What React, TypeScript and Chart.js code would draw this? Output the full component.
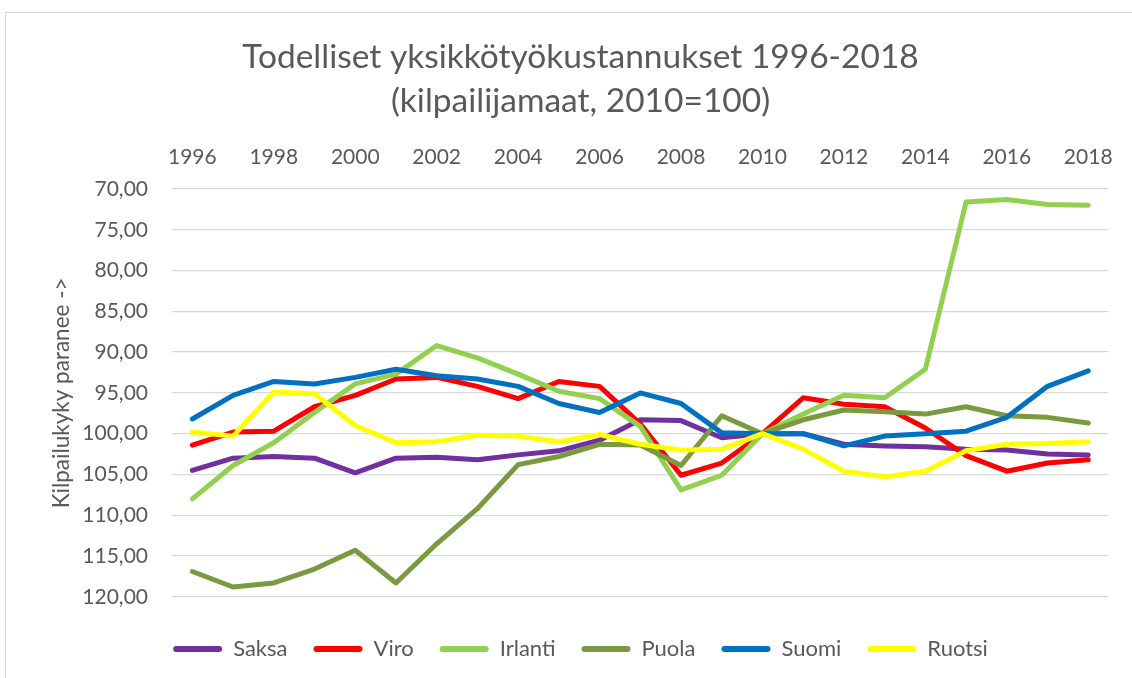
import React, { useEffect, useRef } from "react";
import { Chart, registerables } from "chart.js";

Chart.register(...registerables);

const years = [
  "1996", "1997", "1998", "1999", "2000", "2001", "2002", "2003", "2004", "2005", "2006", "2007",
  "2008", "2009", "2010", "2011", "2012", "2013", "2014", "2015", "2016", "2017", "2018",
];

const saksa = [104.5, 103.0, 102.8, 103.0, 104.8, 103.0, 102.9, 103.2, 102.6, 102.1, 100.8, 98.3, 98.4, 100.5, 100.0, 100.0, 101.3, 101.5, 101.6, 101.9, 102.0, 102.5, 102.6];
const viro = [101.4, 99.8, 99.7, 96.7, 95.3, 93.3, 93.1, 94.2, 95.7, 93.6, 94.2, 98.8, 105.1, 103.6, 100.0, 95.6, 96.4, 96.7, 99.3, 102.7, 104.6, 103.6, 103.2];
const irlanti = [108.0, 103.9, 101.1, 97.4, 93.9, 92.7, 89.2, 90.7, 92.7, 94.8, 95.7, 99.1, 106.9, 105.1, 100.0, 97.6, 95.3, 95.6, 92.1, 71.6, 71.3, 71.9, 72.0];
const puola = [116.9, 118.8, 118.3, 116.6, 114.3, 118.3, 113.5, 109.2, 103.8, 102.8, 101.3, 101.4, 103.9, 97.8, 100.0, 98.3, 97.1, 97.3, 97.6, 96.7, 97.8, 98.0, 98.7];
const suomi = [98.2, 95.3, 93.6, 93.9, 93.1, 92.1, 92.9, 93.3, 94.2, 96.3, 97.4, 95.0, 96.3, 99.9, 100.0, 100.0, 101.5, 100.3, 100.0, 99.7, 98.0, 94.2, 92.3];
const ruotsi = [99.8, 100.3, 94.9, 95.1, 99.0, 101.1, 101.0, 100.2, 100.3, 101.0, 100.1, 101.3, 102.0, 101.9, 100.0, 101.9, 104.6, 105.3, 104.6, 102.1, 101.3, 101.2, 101.0];

const seriesNames = ["Saksa", "Viro", "Irlanti", "Puola", "Suomi", "Ruotsi"];
const seriesValues = [saksa, viro, irlanti, puola, suomi, ruotsi];
const seriesColors = ["#7030A0", "#FF0000", "#92D050", "#7A9A3F", "#0070C0", "#FFFF00"];

const titleLines = ["Todelliset yksikkötyökustannukset 1996-2018", "(kilpailijamaat, 2010=100)"];
const yAxisTitle = "Kilpailukyky paranee ->";
const yMin = 70;
const yMax = 120;
const yStep = 5;

const TEXT = "#595959";
const GRID = "#d9d9d9";

export default function App() {
  const canvasRef = useRef<HTMLCanvasElement | null>(null);

  useEffect(() => {
    if (!canvasRef.current) return;
    Chart.defaults.font.family = "Lato, 'Liberation Sans', sans-serif";
    Chart.defaults.color = TEXT;
    const chart = new Chart(canvasRef.current, {
      type: "line",
      data: {
        labels: years,
        datasets: seriesNames.map((name, i) => ({
          label: name,
          data: seriesValues[i],
          borderColor: seriesColors[i],
          backgroundColor: seriesColors[i],
          borderWidth: 5,
          pointRadius: 0,
          pointHoverRadius: 0,
          tension: 0,
          borderCapStyle: "round" as const,
          borderJoinStyle: "round" as const,
          fill: false,
          order: seriesNames.length - i,
        })),
      },
      options: {
        responsive: false,
        animation: false,
        layout: { padding: { left: 48, right: 19, top: 0, bottom: 8 } },
        plugins: {
          tooltip: { enabled: false },
          title: {
            display: true,
            text: titleLines,
            color: TEXT,
            font: { size: 33.5, weight: "normal", lineHeight: 1.313 },
            padding: { top: 35, bottom: 16 },
          },
          legend: {
            display: true,
            position: "bottom",
            title: { display: true, text: " ", font: { size: 1 }, padding: { top: 14, bottom: 0 } },
            labels: {
              boxWidth: 49,
              boxHeight: 6,
              useBorderRadius: true,
              borderRadius: 3,
              padding: 26,
              color: TEXT,
              font: { size: 22 },
              sort: (a: any, b: any) => a.datasetIndex - b.datasetIndex,
              generateLabels: (c: any) =>
                Chart.defaults.plugins.legend.labels.generateLabels(c).map((it: any) => ({ ...it, lineWidth: 0 })),
            },
          },
        },
        scales: {
          x: {
            position: "top",
            offset: true,
            grid: { display: false, drawTicks: false },
            border: { display: false },
            ticks: {
              autoSkip: false,
              maxRotation: 0,
              padding: 19,
              color: TEXT,
              font: { size: 21 },
              callback: (_v: any, idx: number) => (idx % 2 === 0 ? years[idx] : ""),
            },
            afterFit: (s: any) => {
              s.height = 50;
            },
          },
          y: {
            reverse: true,
            min: yMin,
            max: yMax,
            grid: { color: GRID, lineWidth: 1.3, drawTicks: false },
            border: { display: false },
            ticks: {
              stepSize: yStep,
              padding: 24,
              color: TEXT,
              font: { size: 21 },
              callback: (v: any) => Number(v).toFixed(2).replace(".", ","),
            },
            title: {
              display: true,
              text: yAxisTitle,
              color: TEXT,
              font: { size: 22.5 },
              padding: 0,
            },
            afterFit: (s: any) => {
              s.width = 124;
            },
          },
        },
      },
    });
    return () => chart.destroy();
  }, []);

  return (
    <div style={{ position: "fixed", left: 0, top: 0, width: 1132, height: 678, background: "#fff" }}>
      <div
        style={{
          position: "absolute",
          left: 5,
          top: 12,
          right: 0,
          bottom: 0,
          borderTop: "1px solid #d9d9d9",
          borderLeft: "1px solid #d9d9d9",
        }}
      />
      <canvas ref={canvasRef} width={1132} height={678} style={{ position: "absolute", left: 0, top: 0, display: "block" }} />
    </div>
  );
}
